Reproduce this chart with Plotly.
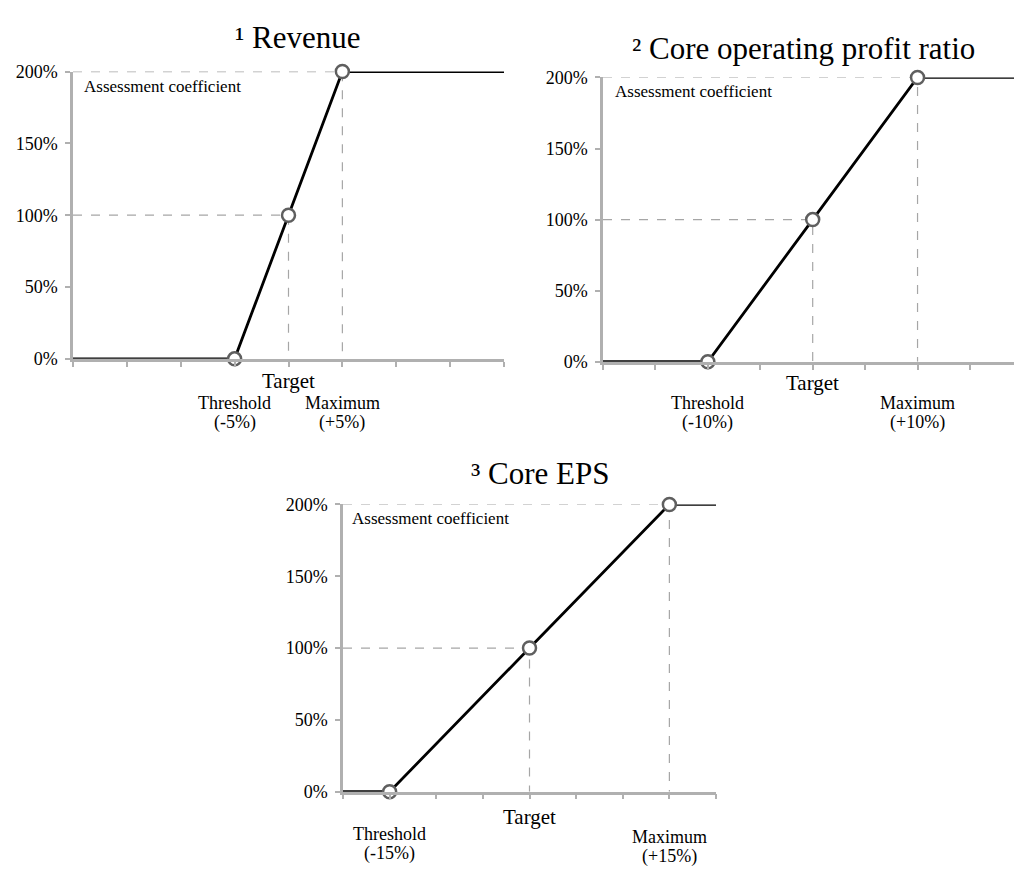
import plotly.graph_objects as go

# Incentive curves: assessment coefficient (%) vs. deviation from target (%)
metric_names = ["Revenue", "Core operating profit ratio", "Core EPS"]
metric_marks = ["\u00b9", "\u00b2", "\u00b3"]
threshold_pct = [-5, -10, -15]
target_pct = [0, 0, 0]
maximum_pct = [5, 10, 15]
axis_min_pct = -20
axis_max_pct = 20
coef_threshold = 0
coef_target = 100
coef_maximum = 200
y_ticks = [0, 50, 100, 150, 200]
y_tick_labels = ["0%", "50%", "100%", "150%", "200%"]
x_ticks = [-20, -15, -10, -5, 0, 5, 10, 15, 20]

W, H = 1014, 875
FONT = "Times New Roman, Liberation Serif, serif"
AXIS_GREY = "#b0b0b0"
GUIDE_GREY = "#a6a6a6"


def fx(p):
    return p / W


def fy(p):
    return 1 - p / H


# pixel frames for each panel: left, right, bottom(0%), top(200%), visible x max
frames = [
    dict(l=73, r=504, b=357, t=63, xr=20.0,
         title=(298, 28), note=(82, 78),
         lab_target=380, lab_thr=402, lab_max=402),
    dict(l=603, r=1014, b=360, t=69, xr=19.2,
         title=(803, 39), note=(613, 83),
         lab_target=382, lab_thr=402, lab_max=402),
    dict(l=343, r=716, b=800, t=506, xr=20.0,
         title=(540, 474), note=(350, 520),
         lab_target=826, lab_thr=843, lab_max=846),
]
LINE_GAP = 20

fig = go.Figure()
annotations = []


def label(text, x, xref, ypix, size):
    annotations.append(dict(
        text=text, x=x, xref=xref, y=fy(ypix), yref="paper",
        xanchor="center", yanchor="middle", showarrow=False,
        font=dict(family=FONT, size=size, color="black")))


for i, fr in enumerate(frames):
    n = i + 1
    xa = "x" if n == 1 else f"x{n}"
    ya = "y" if n == 1 else f"y{n}"
    thr, tgt, mx = threshold_pct[i], target_pct[i], maximum_pct[i]

    # dashed guides from the y axis to the target / maximum points and down to the x axis
    fig.add_trace(go.Scatter(
        x=[axis_min_pct, tgt, tgt, None, axis_min_pct, mx, mx],
        y=[coef_target, coef_target, 0, None, coef_maximum, coef_maximum, 0],
        mode="lines", line=dict(color=GUIDE_GREY, width=1.2, dash="dash"),
        xaxis=xa, yaxis=ya, showlegend=False, hoverinfo="skip", cliponaxis=False))

    # payout curve
    fig.add_trace(go.Scatter(
        x=[axis_min_pct, thr, tgt, mx, axis_max_pct],
        y=[coef_threshold, coef_threshold, coef_target, coef_maximum, coef_maximum],
        mode="lines", line=dict(color="black", width=2.8),
        xaxis=xa, yaxis=ya, showlegend=False, cliponaxis=False))

    # threshold / target / maximum markers
    fig.add_trace(go.Scatter(
        x=[thr, tgt, mx],
        y=[coef_threshold, coef_target, coef_maximum],
        mode="markers",
        marker=dict(size=13, color="white", line=dict(color="#5f5f5f", width=2.5)),
        xaxis=xa, yaxis=ya, showlegend=False, cliponaxis=False))

    fig.update_layout(**{
        ("xaxis" if n == 1 else f"xaxis{n}"): dict(
            domain=[fx(fr["l"]), fx(fr["r"])], range=[axis_min_pct, fr["xr"]],
            anchor=ya, showgrid=False, zeroline=False, showline=True,
            linecolor=AXIS_GREY, linewidth=2.5, ticks="outside", ticklen=5,
            tickwidth=2, tickcolor=AXIS_GREY, tickvals=x_ticks, showticklabels=False,
            fixedrange=True),
        ("yaxis" if n == 1 else f"yaxis{n}"): dict(
            domain=[fy(fr["b"]), fy(fr["t"])], range=[0, 200],
            anchor=xa, showgrid=False, zeroline=False, showline=True,
            linecolor=AXIS_GREY, linewidth=2.5, ticks="outside", ticklen=5,
            tickwidth=2, tickcolor=AXIS_GREY, tickvals=y_ticks, ticktext=y_tick_labels,
            ticklabelstandoff=4,
            tickfont=dict(family=FONT, size=18, color="black"), fixedrange=True),
    })

    # panel title
    annotations.append(dict(
        text=f"{metric_marks[i]} {metric_names[i]}", x=fx(fr["title"][0]), y=fy(fr["title"][1]),
        xref="paper", yref="paper", xanchor="center", yanchor="middle", showarrow=False,
        font=dict(family=FONT, size=31, color="black")))

    # axis caption inside the plot
    annotations.append(dict(
        text="Assessment coefficient", x=fx(fr["note"][0]), y=fy(fr["note"][1]),
        xref="paper", yref="paper", xanchor="left", yanchor="middle", showarrow=False,
        font=dict(family=FONT, size=17, color="black")))

    # x-axis point labels
    label("Target", tgt, xa, fr["lab_target"], 21)
    label("Threshold", thr, xa, fr["lab_thr"], 18)
    label(f"({thr}%)", thr, xa, fr["lab_thr"] + LINE_GAP, 18)
    label("Maximum", mx, xa, fr["lab_max"], 18)
    label(f"(+{mx}%)", mx, xa, fr["lab_max"] + LINE_GAP, 18)

fig.update_layout(
    width=W, height=H, margin=dict(l=0, r=0, t=0, b=0),
    paper_bgcolor="white", plot_bgcolor="white",
    annotations=annotations, showlegend=False,
)

fig.write_html("out.html")
